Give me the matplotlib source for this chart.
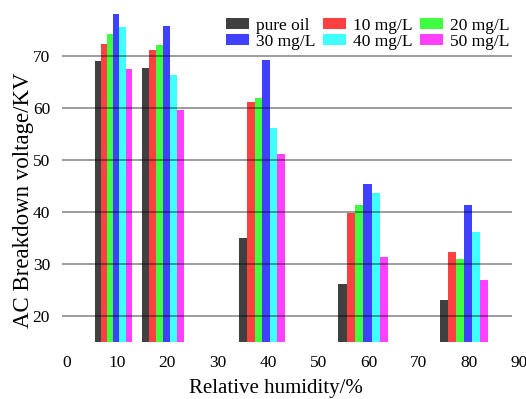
import matplotlib
matplotlib.use("Agg")
import matplotlib.pyplot as plt
from matplotlib.patches import Patch

# ---- data ----
humidity = [10, 20, 40, 60, 80]
series_names = ["pure oil", "10 mg/L", "20 mg/L", "30 mg/L", "40 mg/L", "50 mg/L"]
pure_oil = [69.0, 67.7, 35.0, 26.0, 23.0]
mg10 = [72.4, 71.1, 61.1, 39.8, 32.2]
mg20 = [74.3, 72.1, 62.0, 41.3, 30.9]
mg30 = [78.1, 75.8, 69.2, 45.3, 41.3]
mg40 = [75.6, 66.3, 56.2, 43.7, 36.1]
mg50 = [67.5, 59.6, 51.2, 31.3, 26.9]
series = [pure_oil, mg10, mg20, mg30, mg40, mg50]
xticks = [0, 10, 20, 30, 40, 50, 60, 70, 80, 90]
yticks = [20, 30, 40, 50, 60, 70]

# ---- layout / style ----
colors = ["#000000", "#ff0000", "#00ff00", "#0000ff", "#00ffff", "#ff00ff"]
group_left = [5.6, 14.9, 34.3, 54.0, 74.3]
bar_w = [1.22, 1.40, 1.52, 1.65, 1.57]
base = 15.0

plt.rcParams['font.family'] = ['Liberation Serif', 'DejaVu Serif']
fig = plt.figure(figsize=(5.26, 3.99), dpi=100)
ax = fig.add_axes([66.7 / 526, 1 - 341.5 / 399, (519.4 - 66.7) / 526, (341.5 - 4.1) / 399])

for si, (vals, c) in enumerate(zip(series, colors)):
    xs = [gl + si * w for gl, w in zip(group_left, bar_w)]
    hs = [v - base for v in vals]
    ax.bar(xs, hs, width=bar_w, bottom=base, align='edge', color=c, alpha=0.75,
           linewidth=0, zorder=2)

ax.hlines(yticks, -0.9, 88.5, colors='black', alpha=0.45, linewidth=1.2,
          zorder=3, clip_on=False)

ax.set_xlim(0, 90)
ax.set_ylim(15, 80)
ax.set_xticks(xticks)
ax.set_yticks(yticks)
ax.tick_params(axis='both', length=0, labelsize=12.5)
ax.tick_params(axis='x', pad=10)
ax.tick_params(axis='y', pad=12)
for s in ax.spines.values():
    s.set_visible(False)

ax.set_xlabel("Relative humidity/%", fontsize=15)
ax.xaxis.set_label_coords((276 - 66.7) / 452.7, -(379 - 341.5) / 337.4)
ax.xaxis.label.set_va('top')
ax.set_ylabel("AC Breakdown voltage/KV", fontsize=16.5)
ax.yaxis.set_label_coords(-(66.7 - 34) / 452.7, (341.5 - 200) / 337.4)

handles = [Patch(facecolor=c, alpha=0.75, linewidth=0) for c in colors]
order = [0, 3, 1, 4, 2, 5]
leg = ax.legend([handles[i] for i in order], [series_names[i] for i in order],
                ncol=3, frameon=False, fontsize=12.5, loc='upper left',
                bbox_to_anchor=(226 / 526, 1 - 17.5 / 399), bbox_transform=fig.transFigure,
                borderpad=0, borderaxespad=0, handlelength=1.35, handleheight=0.55,
                handletextpad=0.4, columnspacing=0.4, labelspacing=0.0)

fig.savefig("out.png", dpi=100)
